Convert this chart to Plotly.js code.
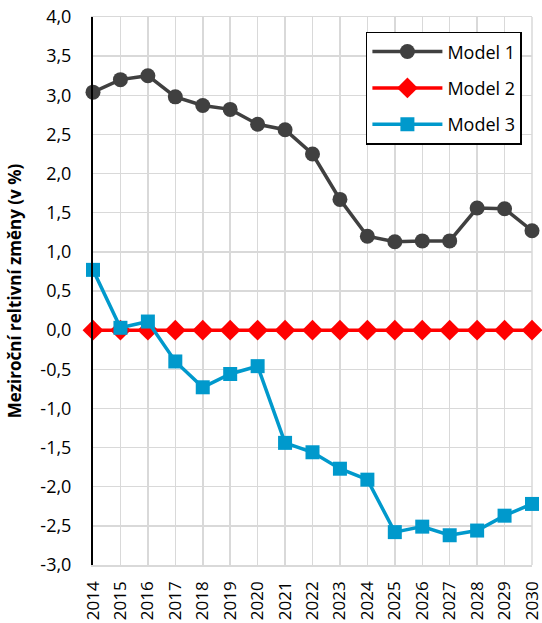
<!DOCTYPE html>
<html>
<head>
<meta charset="utf-8">
<script src="https://cdn.plot.ly/plotly-3.0.1.min.js"></script>
<style>
  html, body { margin: 0; padding: 0; background: #ffffff; }
  #chart { width: 542px; height: 623px; }
</style>
</head>
<body>
<div id="chart"></div>
<script>
// Years on the x axis
const years = [2014, 2015, 2016, 2017, 2018, 2019, 2020, 2021, 2022,
               2023, 2024, 2025, 2026, 2027, 2028, 2029, 2030];

// Year-on-year relative change (%) for each model
const model1 = [3.04, 3.20, 3.25, 2.98, 2.87, 2.82, 2.63, 2.56, 2.25,
                1.67, 1.20, 1.13, 1.14, 1.14, 1.56, 1.55, 1.27];
const model2 = [0.0, 0.0, 0.0, 0.0, 0.0, 0.0, 0.0, 0.0, 0.0,
                0.0, 0.0, 0.0, 0.0, 0.0, 0.0, 0.0, 0.0];
const model3 = [0.77, 0.03, 0.11, -0.40, -0.73, -0.56, -0.46, -1.44, -1.56,
                -1.77, -1.91, -2.58, -2.51, -2.62, -2.56, -2.37, -2.22];

const seriesNames = ['Model 1', 'Model 2', 'Model 3'];
const yTickValues = [-3, -2.5, -2, -1.5, -1, -0.5, 0, 0.5, 1, 1.5, 2, 2.5, 3, 3.5, 4];
// Czech number format: decimal comma, plain hyphen for negatives
const yTickLabels = yTickValues.map(v => v.toFixed(1).replace('.', ','));

const FONT = 'Open Sans, Noto Sans, sans-serif';
const GRID = '#d9d9d9';

const traces = [
  {
    x: years, y: model1, name: seriesNames[0], legendgroup: 'g1',
    type: 'scatter', mode: 'lines+markers', cliponaxis: false,
    line: { color: '#404040', width: 3.5 },
    marker: { symbol: 'circle', size: 15, color: '#404040' }
  },
  {
    x: years, y: model2, name: seriesNames[1], legendgroup: 'g2',
    type: 'scatter', mode: 'lines+markers', cliponaxis: false,
    line: { color: '#ff0000', width: 3.5 },
    marker: { symbol: 'diamond', size: 16, color: '#ff0000' }
  },
  {
    x: years, y: model3, name: seriesNames[2], legendgroup: 'g3',
    type: 'scatter', mode: 'lines+markers', cliponaxis: false,
    line: { color: '#0099cc', width: 3.5 },
    marker: { symbol: 'square', size: 14, color: '#0099cc' }
  }
];

const layout = {
  width: 542,
  height: 623,
  margin: { l: 93, r: 10, t: 17, b: 58 },
  paper_bgcolor: '#ffffff',
  plot_bgcolor: '#ffffff',
  separators: ',.',
  font: { family: FONT, size: 18, color: '#000000' },
  showlegend: true,
  legend: {
    x: 0.977, y: 0.973, xanchor: 'right', yanchor: 'top',
    bgcolor: '#ffffff', bordercolor: '#000000', borderwidth: 1.5,
    font: { family: FONT, size: 18, color: '#000000' },
    traceorder: 'grouped', tracegroupgap: 10, itemwidth: 70
  },
  // light frame on the right edge of the plot area
  shapes: [
    { type: 'line', xref: 'paper', yref: 'paper', x0: 1, x1: 1, y0: 0, y1: 1,
      line: { color: GRID, width: 1.5 }, layer: 'below' }
  ],
  xaxis: {
    type: 'linear',
    range: [2014, 2030],
    tickmode: 'array',
    tickvals: years,
    ticktext: years.map(String),
    tickangle: -90,
    ticklabeloverflow: 'allow',
    tickfont: { family: FONT, size: 17, color: '#000000' },
    showgrid: true, gridcolor: GRID, gridwidth: 1.5,
    zeroline: false,
    showline: true, mirror: true, linecolor: GRID, linewidth: 1.5,
    ticks: '',
    ticklabelstandoff: 8
  },
  yaxis: {
    range: [-3, 4],
    tickmode: 'array',
    tickvals: yTickValues,
    ticktext: yTickLabels,
    tickfont: { family: FONT, size: 18, color: '#000000' },
    showgrid: true, gridcolor: GRID, gridwidth: 1.5,
    zeroline: false,
    showline: true, linecolor: '#000000', linewidth: 2,
    ticks: '', ticklabelstandoff: 16,
    title: {
      text: 'Meziroční reltivní změny (v %)',
      font: { family: FONT, size: 17, color: '#000000', weight: 'bold' },
      standoff: 14
    }
  }
};

Plotly.newPlot('chart', traces, layout, { displayModeBar: false, staticPlot: true });
</script>
</body>
</html>
